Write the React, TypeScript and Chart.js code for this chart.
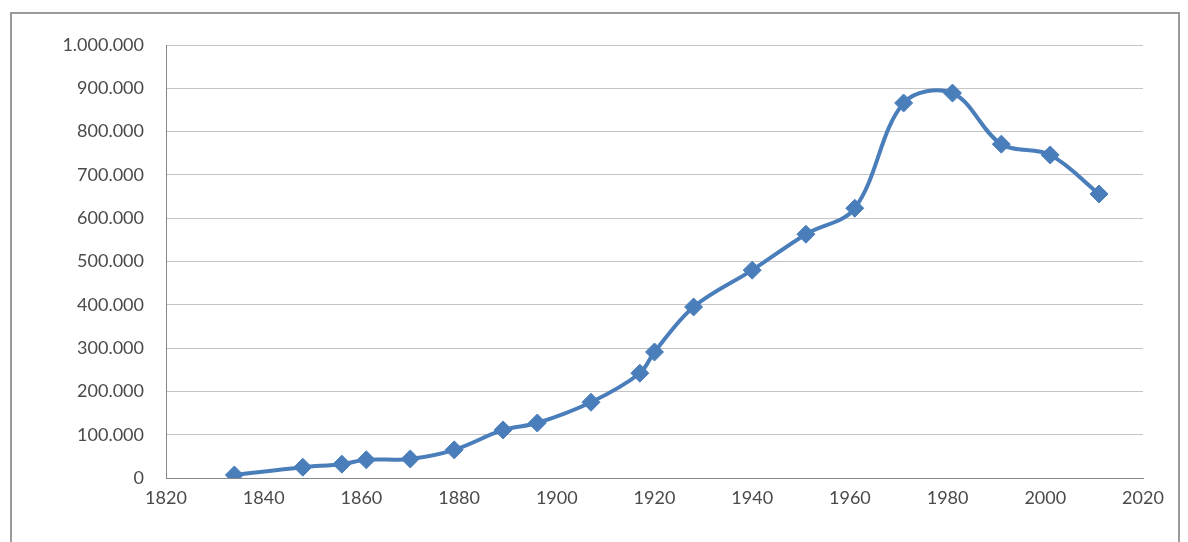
import React, { useEffect, useRef } from "react";
import { Chart, registerables } from "chart.js";
Chart.register(...registerables);

const years = [1834, 1848, 1856, 1861, 1870, 1879, 1889, 1896, 1907, 1917, 1920, 1928, 1940, 1951, 1961, 1971, 1981, 1991, 2001, 2011];
const population = [7000, 25000, 32000, 42000, 44000, 65000, 111000, 127000, 175000, 242000, 291000, 395000, 480000, 563000, 623000, 866000, 889000, 771000, 746000, 656000];

export default function App() {
  const ref = useRef<HTMLCanvasElement>(null);
  useEffect(() => {
    document.body.style.margin = "0";
    const fmt = (v: number) => Math.round(v).toString().replace(/\B(?=(\d{3})+(?!\d))/g, ".");
    const chart = new Chart(ref.current!, {
      type: "line",
      data: {
        datasets: [{
          data: years.map((y, i) => ({ x: y, y: population[i] })),
          borderColor: "#4a7ebb",
          backgroundColor: "#4a7ebb",
          borderWidth: 4,
          tension: 0.35,
          pointStyle: "rectRot",
          pointRadius: 9,
          pointBorderWidth: 1,
        }],
      },
      options: {
        animation: false,
        responsive: false,
        layout: { padding: { top: 45, right: 45, left: 0, bottom: 0 } },
        plugins: { legend: { display: false }, tooltip: { enabled: false } },
        scales: {
          x: {
            type: "linear", min: 1820, max: 2020,
            ticks: { stepSize: 20, color: "#4a4a4a", font: { family: "Lato", size: 18 }, padding: 3, callback: (v: any) => String(v) },
            grid: { display: false, drawTicks: true, tickLength: 6, tickColor: "#868686" },
            border: { color: "#868686" },
            afterFit: (s: any) => { s.height = 64; },
          },
          y: {
            min: 0, max: 1000000,
            ticks: { stepSize: 100000, color: "#4a4a4a", font: { family: "Lato", size: 18 }, padding: 22, callback: (v: any) => fmt(v) },
            grid: { color: "#c4c4c4", drawTicks: false },
            border: { color: "#868686" },
            afterFit: (s: any) => { s.width = 166; },
          },
        },
      },
    });
    return () => chart.destroy();
  }, []);
  return (
    <div style={{ position: "relative", width: 1188, height: 542 }}>
      <canvas ref={ref} width={1188} height={542} style={{ position: "absolute", left: 0, top: 0 }} />
      <div style={{ position: "absolute", left: 10, top: 12, width: 1170, height: 530, border: "2px solid #9a9a9a", borderBottom: "none", boxSizing: "border-box" }} />
    </div>
  );
}
